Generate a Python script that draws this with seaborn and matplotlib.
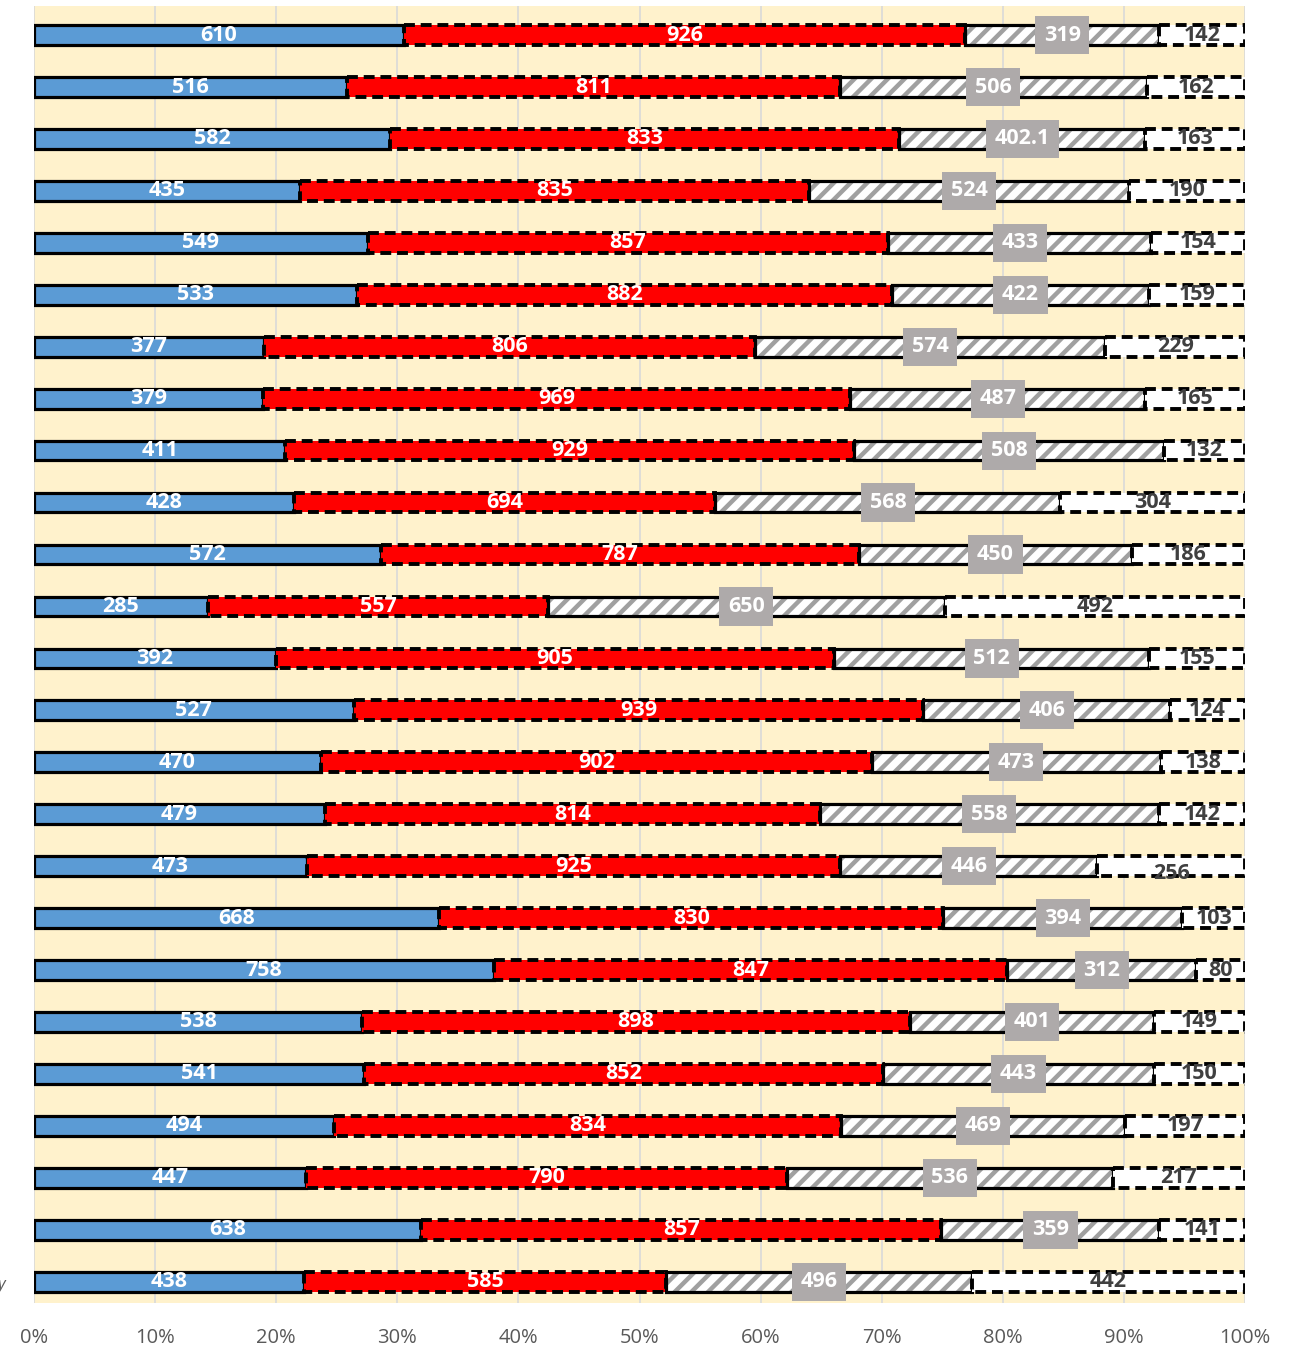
import pandas as pd
import matplotlib.pyplot as plt
import seaborn as sns

# values per row, top to bottom
rows = [f'Row {i}' for i in range(1, 26)]
blue = [610, 516, 582, 435, 549, 533, 377, 379, 411, 428, 572, 285, 392,
        527, 470, 479, 473, 668, 758, 538, 541, 494, 447, 638, 438]
red = [926, 811, 833, 835, 857, 882, 806, 969, 929, 694, 787, 557, 905,
       939, 902, 814, 925, 830, 847, 898, 852, 834, 790, 857, 585]
striped = [319, 506, 402.1, 524, 433, 422, 574, 487, 508, 568, 450, 650, 512,
           406, 473, 558, 446, 394, 312, 401, 443, 469, 536, 359, 496]
white = [142, 162, 163, 190, 154, 159, 229, 165, 132, 304, 186, 492, 155,
         124, 138, 142, 256, 103, 80, 149, 150, 197, 217, 141, 442]
ticks = list(range(0, 101, 10))

sns.set_theme(style='white')
plt.rcParams['font.family'] = ['Open Sans', 'DejaVu Sans']
plt.rcParams['hatch.linewidth'] = 3.2

raw = pd.DataFrame({'blue': blue, 'red': red, 'striped': striped, 'white': white})
pct = raw.div(raw.sum(axis=1), axis=0) * 100
left = pct.cumsum(axis=1) - pct
pct['row'] = rows

fig = plt.figure(figsize=(13.01, 13.48), dpi=100)
ax = fig.add_axes([34 / 1301, 1 - 1303 / 1348, 1211 / 1301, 1297 / 1348])
ax.set_facecolor('#FFF2CC')

bw = 0.38
dash = (0, (2.8, 1.5))
common = dict(data=pct, y='row', order=rows, orient='h', width=bw,
              errorbar=None, saturation=1, ax=ax)


def fmt(vals):
    return [f'{v:g}' for v in vals]


lab_kw = dict(label_type='center', fontsize=15.5, fontweight='bold')

# blue
sns.barplot(x='blue', color='#5B9BD5', edgecolor='black', linewidth=2.3,
            left=left['blue'].values, **common)
ax.bar_label(ax.containers[-1], labels=fmt(blue), color='white', **lab_kw)

# red
sns.barplot(x='red', color='#FF0000', edgecolor='black', linewidth=2.8,
            linestyle=dash, left=left['red'].values, **common)
ax.bar_label(ax.containers[-1], labels=fmt(red), color='white', **lab_kw)

# striped: hatch layer then outline
sns.barplot(x='striped', color='white', edgecolor='#A0A0A0', linewidth=0,
            hatch='//', left=left['striped'].values, **common)
sns.barplot(x='striped', color='black', fill=False, edgecolor='black', linewidth=2.3,
            left=left['striped'].values, **common)
ax.bar_label(ax.containers[-1], labels=fmt(striped), color='white',
             bbox=dict(boxstyle='square,pad=0.4', fc='#AEAAAA', ec='none'), **lab_kw)

# white
sns.barplot(x='white', color='white', edgecolor='black', linewidth=2.8,
            linestyle=dash, left=left['white'].values, **common)
wl = ax.bar_label(ax.containers[-1], labels=fmt(white), color='#404040', **lab_kw)
wl[16].set_position((0, -5))

ax.set_xlim(0, 100)
ax.set_ylim(24.41, -0.56)
ax.set_xticks(ticks)
ax.set_xticklabels([f'{t}%' for t in ticks])
ax.grid(axis='x', color='#D9D9D9', linewidth=1.2)
ax.set_axisbelow(True)
ax.set_xlabel('')
ax.set_ylabel('')
ax.tick_params(axis='x', length=0, pad=18, labelsize=14.5, labelcolor='#595959')
ax.tick_params(axis='y', left=False, labelleft=False)
for s in ax.spines.values():
    s.set_visible(False)

fig.text(-0.002, 1 - 1285 / 1348, 'y', color='#595959', fontsize=12,
         style='italic', ha='left', va='center')

fig.savefig('out.png', dpi=100)
